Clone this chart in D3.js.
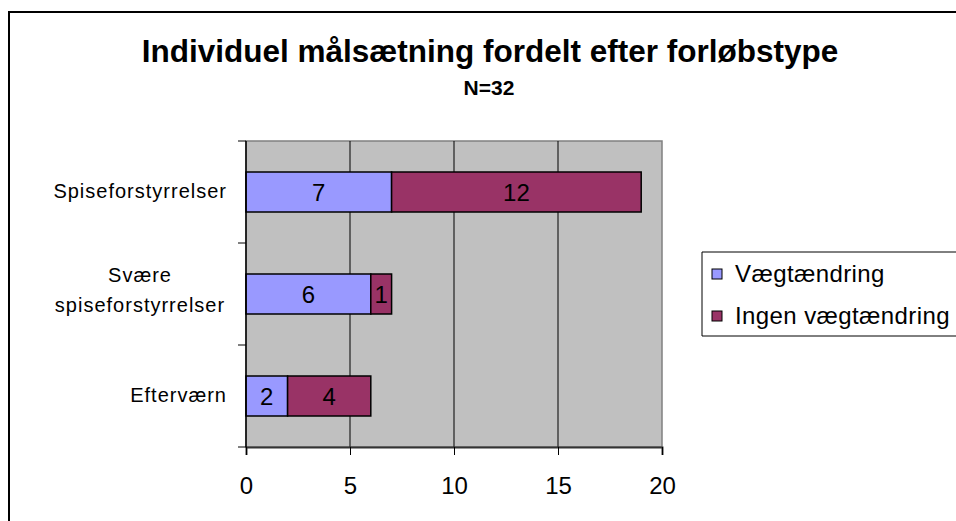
<!DOCTYPE html>
<html>
<head>
<meta charset="utf-8">
<script src="https://cdn.jsdelivr.net/npm/d3@7"></script>
<style>
  body { margin: 0; background: #fff; overflow: hidden; }
  svg { display: block; }
  text { font-family: "Liberation Sans", Arial, sans-serif; }
</style>
</head>
<body>
<div id="chart"></div>
<script>
var categories = ['Spiseforstyrrelser', 'Svære spiseforstyrrelser', 'Efterværn']
var categoryLines = [['Spiseforstyrrelser'], ['Svære', 'spiseforstyrrelser'], ['Efterværn']]
var seriesNames = ['Vægtændring', 'Ingen vægtændring']
var vaegt = [7, 6, 2]
var ingenVaegt = [12, 1, 4]
var xTicks = [0, 5, 10, 15, 20]
var colors = ['#9999ff', '#993366']

var width = 956, height = 521
var plot = {left: 246, right: 662, top: 141, bottom: 447}

var svg = d3.select('#chart').append('svg')
  .attr('width', width)
  .attr('height', height)

// outer frame: only left and top edges are inside the picture
svg.append('path')
  .attr('d', 'M9,' + height + 'V12H' + width)
  .attr('fill', 'none')
  .attr('stroke', '#000')
  .attr('stroke-width', 2)

svg.append('text')
  .attr('x', 490).attr('y', 62)
  .attr('text-anchor', 'middle')
  .style('font-size', '31.5px')
  .style('font-weight', 'bold')
  .text('Individuel målsætning fordelt efter forløbstype')

svg.append('text')
  .attr('x', 489).attr('y', 95)
  .attr('text-anchor', 'middle')
  .style('font-size', '21px')
  .style('font-weight', 'bold')
  .text('N=32')

var x = d3.scaleLinear().domain([0, 20]).range([plot.left, plot.right])
var y = d3.scaleBand().domain(categories).range([plot.top, plot.bottom])

// gray plot area
svg.append('rect')
  .attr('x', plot.left).attr('y', plot.top)
  .attr('width', plot.right - plot.left)
  .attr('height', plot.bottom - plot.top)
  .attr('fill', '#c0c0c0')
  .attr('stroke', '#808080')
  .attr('stroke-width', 1.5)

// gridlines
svg.append('g').selectAll('line')
  .data(xTicks.slice(1, -1))
  .enter().append('line')
    .attr('x1', (d) => x(d)).attr('x2', (d) => x(d))
    .attr('y1', plot.top).attr('y2', plot.bottom)
    .attr('stroke', '#000')
    .attr('stroke-width', 1)

// stacked bars
var rows = categories.map((c, i) => ({cat: c, values: [vaegt[i], ingenVaegt[i]]}))
var barH = 40

rows.forEach((r) => {
  var start = 0
  var cy = y(r.cat) + y.bandwidth() / 2
  r.values.forEach((v, j) => {
    svg.append('rect')
      .attr('x', x(start)).attr('y', cy - barH / 2)
      .attr('width', x(start + v) - x(start))
      .attr('height', barH)
      .attr('fill', colors[j])
      .attr('stroke', '#000')
      .attr('stroke-width', 1.5)
    svg.append('text')
      .attr('x', (x(start) + x(start + v)) / 2)
      .attr('y', cy + 9)
      .attr('text-anchor', 'middle')
      .style('font-size', '24px')
      .text(v)
    start += v
  })
})

// x axis
var xAxis = svg.append('g')
  .attr('transform', 'translate(0,' + plot.bottom + ')')
  .call(d3.axisBottom(x).tickValues(xTicks).tickSize(8).tickPadding(22))
xAxis.select('.domain').attr('stroke', '#333').attr('stroke-width', 2)
xAxis.selectAll('.tick line').attr('stroke', '#000')
xAxis.selectAll('.tick text')
  .style('font-size', '24px')
  .style('font-family', '"Liberation Sans", Arial, sans-serif')
  .attr('fill', '#000')

// y axis
var yAxis = svg.append('g')
  .attr('transform', 'translate(' + plot.left + ',0)')
yAxis.append('line')
  .attr('x1', 0).attr('x2', 0)
  .attr('y1', plot.top).attr('y2', plot.bottom)
  .attr('stroke', '#000').attr('stroke-width', 1.5)
var yTickPos = categories.map((c) => y(c)).concat([plot.bottom])
yAxis.selectAll('.ytick')
  .data(yTickPos)
  .enter().append('line')
    .attr('x1', -8).attr('x2', 0)
    .attr('y1', (d) => d).attr('y2', (d) => d)
    .attr('stroke', '#000')

categories.forEach((c, i) => {
  var lines = categoryLines[i]
  var cy = y(c) + y.bandwidth() / 2
  var t = svg.append('text')
    .style('font-size', '20px')
    .style('letter-spacing', '1px')
  if (lines.length === 1) {
    t.attr('text-anchor', 'end')
      .attr('x', 227).attr('y', cy + 6)
      .text(lines[0])
  } else {
    t.attr('text-anchor', 'middle')
    lines.forEach((l, k) => {
      t.append('tspan')
        .attr('x', 140)
        .attr('y', cy - 12 + k * 30)
        .text(l)
    })
  }
})

// legend box, open on the right where it leaves the picture
var legend = svg.append('g')
legend.append('path')
  .attr('d', 'M' + width + ',252H702V336H' + width)
  .attr('fill', '#fff')
  .attr('stroke', '#000')
  .attr('stroke-width', 1)
seriesNames.forEach((s, i) => {
  var base = 282 + i * 42
  legend.append('rect')
    .attr('x', 712).attr('y', base - 13)
    .attr('width', 10).attr('height', 10)
    .attr('fill', colors[i])
    .attr('stroke', '#000')
    .attr('stroke-width', 1)
  legend.append('text')
    .attr('x', 735).attr('y', base)
    .style('font-size', '24px')
    .style('letter-spacing', '0.4px')
    .text(s)
})
</script>
</body>
</html>
